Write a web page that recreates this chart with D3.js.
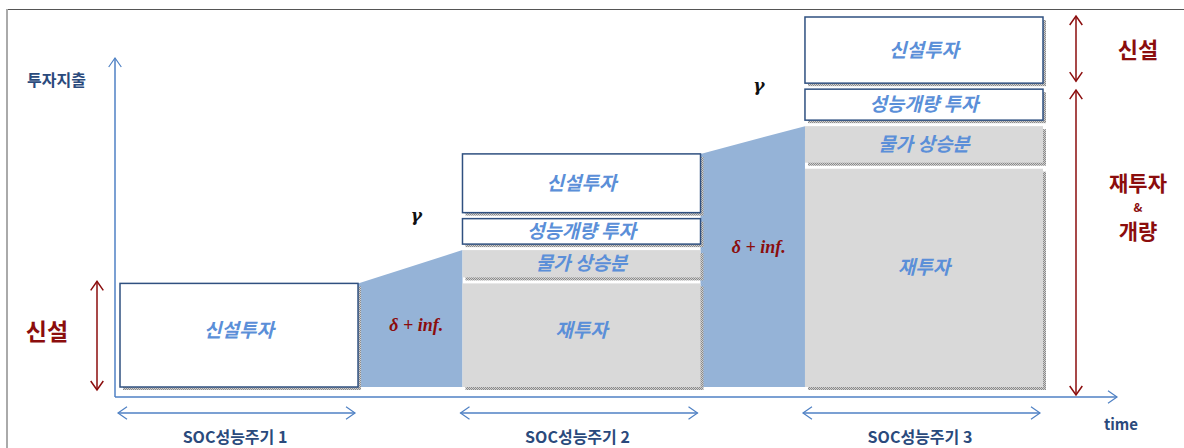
<!DOCTYPE html>
<html>
<head>
<meta charset="utf-8">
<script src="https://cdn.jsdelivr.net/npm/d3@7"></script>
<style>
  html, body { margin: 0; padding: 0; background: #fff; }
  svg { display: block; }
</style>
</head>
<body>
<svg id="chart" width="1184" height="448"></svg>
<script>
// Investment cycle of SOC assets: each performance cycle stacks reinvestment,
// inflation, upgrade and new-build spending.
const periods = ["SOC성능주기 1", "SOC성능주기 2", "SOC성능주기 3"];
const segmentNames = ["재투자", "물가 상승분", "성능개량 투자", "신설투자"];
const reinvest  = [0, 28, 59];
const inflation = [0, 9, 11.5];
const upgrade   = [0, 8.5, 10];
const newBuild  = [28, 17.5, 19.5];
const yTitle = "투자지출";
const xTitle = "time";
const gapLabel = "δ + inf.";
const gammaLabel = "γ";
const sideLabels = ["신설", "재투자", "&", "개량"];

const svg = d3.select("#chart");
const W = 1184, H = 448;

const x = d3.scaleBand().domain(periods).range([120, 1043]).paddingInner(0.305).paddingOuter(0);
const y = d3.scaleLinear().domain([0, 100]).range([387, 17]);

const axisColor = "#4f81c4";
const darkRed = "#8b0d0d";
const labelBlue = "#5b8fd8";
const navy = "#2a4a7c";
const font = "'Noto Sans CJK KR', 'Noto Sans', sans-serif";

// stacked rows per period
const rows = periods.map((p, i) => {
  const vals = [reinvest[i], inflation[i], upgrade[i], newBuild[i]];
  let acc = 0, first = true;
  const segs = [];
  vals.forEach((v, k) => {
    if (v > 0) {
      segs.push({ period: p, name: segmentNames[k], k, y0: acc, y1: acc + v, gap: first ? 0 : 6 });
      first = false;
    }
    acc += v;
  });
  return { period: p, i, segs, total: acc };
});

// slide frame
svg.append("line").attr("x1", 6).attr("x2", W).attr("y1", 9.5).attr("y2", 9.5)
  .attr("stroke", "#555").attr("stroke-width", 1.2);
svg.append("line").attr("x1", 7).attr("x2", 7).attr("y1", 9).attr("y2", H)
  .attr("stroke", "#aaa").attr("stroke-width", 2);

// dotted shadow pattern
const defs = svg.append("defs");
const pat = defs.append("pattern").attr("id", "shadowDots").attr("width", 2).attr("height", 2)
  .attr("patternUnits", "userSpaceOnUse");
pat.append("rect").attr("width", 2).attr("height", 2).attr("fill", "#cfcfcf");
pat.append("rect").attr("width", 1).attr("height", 1).attr("fill", "#8a8a8a");
pat.append("rect").attr("x", 1).attr("y", 1).attr("width", 1).attr("height", 1).attr("fill", "#8a8a8a");

// blue transition areas between cycles
const trans = d3.range(periods.length - 1).map(i => {
  const a = rows[i], b = rows[i + 1];
  return {
    i,
    x0: x(a.period) + x.bandwidth(),
    x1: x(b.period),
    yl: a.total,
    yr: reinvest[i + 1] + inflation[i + 1],
    upTop: reinvest[i + 1] + inflation[i + 1] + upgrade[i + 1]
  };
});
const area = d3.area().x(d => d[0]).y0(y(0)).y1(d => y(d[1]));
svg.selectAll("path.trans").data(trans).join("path")
  .attr("class", "trans")
  .attr("d", d => area([[d.x0, d.yl], [d.x1, d.yr]]))
  .attr("fill", "#95b3d7");

// stacked segments
const segs = rows.flatMap(r => r.segs);
const grey = d => d.k < 2;
const segH = d => y(d.y0) - y(d.y1) - d.gap;
const segG = svg.selectAll("g.seg").data(segs).join("g").attr("class", "seg");
segG.append("rect")
  .attr("x", d => x(d.period) + 3)
  .attr("y", d => y(d.y1) + 3)
  .attr("width", x.bandwidth())
  .attr("height", segH)
  .attr("fill", "url(#shadowDots)");
segG.append("rect")
  .attr("x", d => x(d.period))
  .attr("y", d => y(d.y1))
  .attr("width", x.bandwidth())
  .attr("height", segH)
  .attr("fill", d => grey(d) ? "#d9d9d9" : "#fff")
  .attr("stroke", d => grey(d) ? "none" : "#2f5080")
  .attr("stroke-width", 1.5);
segG.append("text")
  .attr("x", d => x(d.period) + x.bandwidth() / 2)
  .attr("y", d => y(d.y1) + segH(d) * (segH(d) > 80 ? 0.45 : 0.5))
  .attr("dy", "0.35em")
  .attr("text-anchor", "middle")
  .attr("font-family", font).attr("font-weight", 700).attr("font-style", "italic")
  .attr("font-size", 19).attr("fill", labelBlue)
  .text(d => d.name);

// transition labels
svg.selectAll("text.delta").data(trans).join("text")
  .attr("class", "delta")
  .attr("x", d => (d.x0 + d.x1) / 2 + 6)
  .attr("y", d => y(d.yl * 0.6))
  .attr("dy", "0.35em").attr("text-anchor", "middle")
  .attr("font-family", "'Liberation Serif', 'DejaVu Serif', serif")
  .attr("font-style", "italic").attr("font-weight", 700)
  .attr("font-size", 18).attr("fill", darkRed)
  .text(gapLabel);
svg.selectAll("text.gamma").data(trans).join("text")
  .attr("class", "gamma")
  .attr("x", d => (d.x0 + d.x1) / 2 + 6)
  .attr("y", d => y(d.upTop) - 4)
  .attr("dy", "0.35em").attr("text-anchor", "middle")
  .attr("font-family", "'DejaVu Serif', 'Liberation Serif', serif")
  .attr("font-style", "italic").attr("font-weight", 700)
  .attr("font-size", 17).attr("fill", "#111")
  .text(gammaLabel);

// open chevron arrowhead helper
function chevron(g, tx, ty, dir, color, size, w) {
  const s = size;
  let d;
  if (dir === "up") d = `M${tx - s * 0.7},${ty + s} L${tx},${ty} L${tx + s * 0.7},${ty + s}`;
  if (dir === "down") d = `M${tx - s * 0.7},${ty - s} L${tx},${ty} L${tx + s * 0.7},${ty - s}`;
  if (dir === "left") d = `M${tx + s},${ty - s * 0.7} L${tx},${ty} L${tx + s},${ty + s * 0.7}`;
  if (dir === "right") d = `M${tx - s},${ty - s * 0.7} L${tx},${ty} L${tx - s},${ty + s * 0.7}`;
  g.append("path").attr("d", d).attr("fill", "none").attr("stroke", color).attr("stroke-width", w);
}
function vArrow(xp, ya, yb, color, both) {
  const g = svg.append("g");
  g.append("line").attr("x1", xp).attr("x2", xp).attr("y1", ya).attr("y2", yb)
    .attr("stroke", color).attr("stroke-width", 1.5);
  chevron(g, xp, ya, "up", color, 9, 1.5);
  if (both) chevron(g, xp, yb, "down", color, 9, 1.5);
}
function hArrow(xa, xb, yp, color, both) {
  const g = svg.append("g");
  g.append("line").attr("x1", xa).attr("x2", xb).attr("y1", yp).attr("y2", yp)
    .attr("stroke", color).attr("stroke-width", 1.5);
  chevron(g, xb, yp, "right", color, 9, 1.2);
  if (both) chevron(g, xa, yp, "left", color, 9, 1.2);
}

// axes
const axisY = y(0) + 10;
const axisX = x.range()[0] - 5;
svg.append("line").attr("x1", axisX).attr("x2", axisX).attr("y1", axisY).attr("y2", 58)
  .attr("stroke", axisColor).attr("stroke-width", 1.5);
chevron(svg, axisX, 58, "up", axisColor, 9, 1.2);
svg.append("line").attr("x1", axisX).attr("x2", 1117).attr("y1", axisY).attr("y2", axisY)
  .attr("stroke", axisColor).attr("stroke-width", 1.5);
chevron(svg, 1117, axisY, "right", axisColor, 9, 1.2);

svg.append("text").attr("x", 27).attr("y", 80).attr("dy", "0.35em")
  .attr("font-family", font).attr("font-weight", 700).attr("font-size", 16).attr("fill", navy)
  .text(yTitle);
svg.append("text").attr("x", 1121).attr("y", 425).attr("dy", "0.35em").attr("text-anchor", "middle")
  .attr("font-family", font).attr("font-weight", 700).attr("font-size", 15).attr("fill", navy)
  .text(xTitle);

// cycle spans
periods.forEach(p => {
  hArrow(x(p) - 2, x(p) + x.bandwidth() - 3, 413, axisColor, true);
});
svg.selectAll("text.period").data(periods).join("text")
  .attr("class", "period")
  .attr("x", d => x(d) + x.bandwidth() / 2 - 4)
  .attr("y", 437).attr("dy", "0.35em").attr("text-anchor", "middle")
  .attr("font-family", font).attr("font-weight", 700).attr("font-size", 16).attr("fill", navy)
  .text(d => d);

// side brackets
const r1 = rows[0], r3 = rows[2];
vArrow(97, y(r1.total) - 2, y(0) + 3, darkRed, true);
svg.append("text").attr("x", 47).attr("y", (y(r1.total) + y(0)) / 2 - 3).attr("dy", "0.35em")
  .attr("text-anchor", "middle").attr("font-family", font).attr("font-weight", 700)
  .attr("font-size", 23).attr("fill", darkRed).text(sideLabels[0]);

const upTop3 = reinvest[2] + inflation[2] + upgrade[2];
vArrow(1076, y(r3.total) - 1, y(upTop3) - 8, darkRed, true);
vArrow(1076, y(upTop3) + 1, axisY - 2, darkRed, true);
svg.append("text").attr("x", 1138).attr("y", (y(r3.total) + y(upTop3)) / 2 - 3).attr("dy", "0.35em")
  .attr("text-anchor", "middle").attr("font-family", font).attr("font-weight", 700)
  .attr("font-size", 22).attr("fill", darkRed).text(sideLabels[0]);
svg.append("text").attr("x", 1138).attr("y", 184).attr("dy", "0.35em")
  .attr("text-anchor", "middle").attr("font-family", font).attr("font-weight", 700)
  .attr("font-size", 21).attr("fill", darkRed).text(sideLabels[1]);
svg.append("text").attr("x", 1138).attr("y", 208).attr("dy", "0.35em")
  .attr("text-anchor", "middle").attr("font-family", font).attr("font-weight", 700)
  .attr("font-size", 12).attr("fill", darkRed).text(sideLabels[2]);
svg.append("text").attr("x", 1138).attr("y", 232).attr("dy", "0.35em")
  .attr("text-anchor", "middle").attr("font-family", font).attr("font-weight", 700)
  .attr("font-size", 21).attr("fill", darkRed).text(sideLabels[3]);
</script>
</body>
</html>
